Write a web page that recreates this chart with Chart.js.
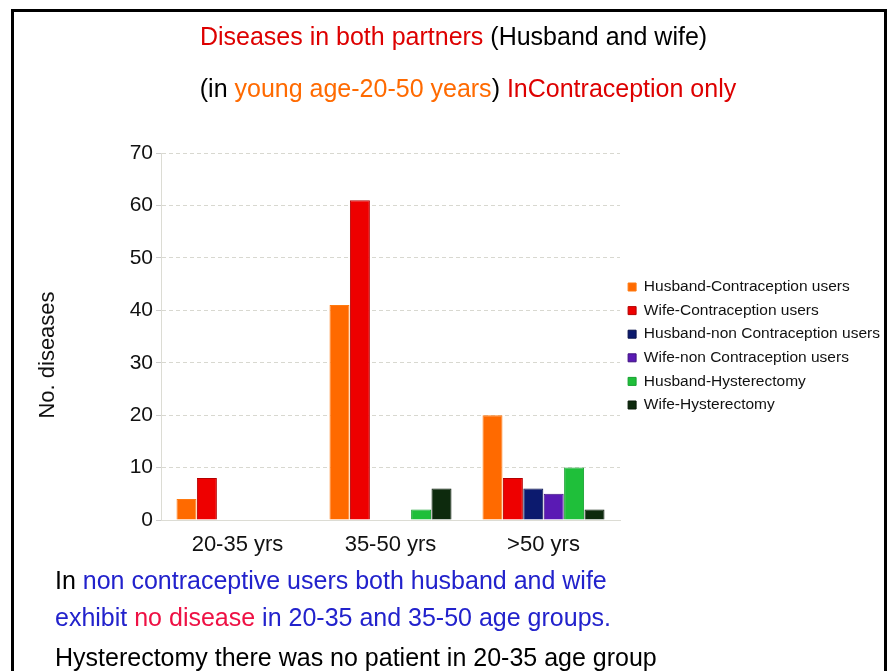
<!DOCTYPE html>
<html>
<head>
<meta charset="utf-8">
<script src="https://cdn.jsdelivr.net/npm/chart.js@4/dist/chart.umd.min.js"></script>
<style>
    html, body { margin: 0; padding: 0; background: #fff; }
    body { width: 887px; height: 671px; position: relative; overflow: hidden; font-family: Arial, "Liberation Sans", sans-serif; }
    #frame { position: absolute; left: 11px; top: 9px; width: 876px; height: 700px; border: 3px solid #000; box-sizing: border-box; }
    #chart-box { position: absolute; left: 0; top: 0; width: 887px; height: 671px; }
    .line { position: absolute; white-space: nowrap; font-size: 25px; line-height: 28px; }
    .title { left: 0; text-align: center; }
    .note { left: 55px; }
    .red { color: #dd0000; }
    .orange { color: #ff6a00; }
    .blue { color: #2222cc; }
    .pink { color: #ee1144; }
</style>
</head>
<body>
<div id="frame"></div>
<div id="chart-box"><canvas id="diseaseChart" width="887" height="671"></canvas></div>
<div class="line title" style="top:22px; width:907px"><span class="red">Diseases in both partners</span> (Husband and wife)</div>
<div class="line title" style="top:74px; width:936px">(in <span class="orange">young age-20-50 years</span>) <span class="red">InContraception only</span></div>
<div class="line note" style="top:566px">In <span class="blue">non contraceptive users both husband and wife</span></div>
<div class="line note" style="top:603px"><span class="blue">exhibit </span><span class="pink">no disease</span><span class="blue"> in 20-35 and 35-50 age groups.</span></div>
<div class="line note" style="top:643px">Hysterectomy there was no patient in 20-35 age group</div>
<script>
    // Altersgruppen und Werte
    const ageGroups = ['20-35 yrs', '35-50 yrs', '>50 yrs'];
    const husbandContraception = [4, 41, 20];
    const wifeContraception = [8, 61, 8];
    const husbandNonContraception = [0, 0, 6];
    const wifeNonContraception = [0, 0, 5];
    const husbandHysterectomy = [0, 2, 10];
    const wifeHysterectomy = [0, 6, 2];
    const yTicks = [0, 10, 20, 30, 40, 50, 60, 70];
    const yAxisLabel = 'No. diseases';

    const seriesNames = [
        'Husband-Contraception users', 'Wife-Contraception users',
        'Husband-non Contraception users', 'Wife-non Contraception users',
        'Husband-Hysterectomy', 'Wife-Hysterectomy'
    ];
    const seriesValues = [
        husbandContraception, wifeContraception, husbandNonContraception,
        wifeNonContraception, husbandHysterectomy, wifeHysterectomy
    ];
    const fillColors = ['#ff6a00', '#ee0000', '#0c1a6e', '#5a1ab4', '#1fbf3a', '#0d2a0d'];
    const edgeColors = ['#ff7a10', '#b30000', '#08104a', '#3e1080', '#16a030', '#061806'];
    const textColor = '#111';
    const fontFamily = 'Arial, "Liberation Sans", sans-serif';

    const datasets = seriesValues.map((values, i) => ({
        label: seriesNames[i],
        data: values,
        backgroundColor: fillColors[i],
        borderColor: edgeColors[i],
        borderWidth: 1,
        categoryPercentage: 0.8,
        barPercentage: 0.98
    }));

    // Achsentitel links, etwas unterhalb der Mitte wie im Original
    const yLabelPlugin = {
        id: 'yLabel',
        afterDraw(chart) {
            const c = chart.ctx;
            c.save();
            c.translate(48, 355);
            c.rotate(-Math.PI / 2);
            c.font = '22px ' + fontFamily;
            c.fillStyle = textColor;
            c.textAlign = 'center';
            c.textBaseline = 'middle';
            c.fillText(yAxisLabel, 0, 0);
            c.restore();
        }
    };

    const ctx = document.getElementById('diseaseChart').getContext('2d');
    new Chart(ctx, {
        type: 'bar',
        data: { labels: ageGroups, datasets: datasets },
        options: {
            responsive: false,
            animation: false,
            layout: { padding: { top: 153, bottom: 111, left: 0, right: 0 } },
            plugins: {
                title: { display: false },
                tooltip: { enabled: false },
                legend: {
                    position: 'right',
                    fullSize: false,
                    maxWidth: 267,
                    title: { display: true, text: '', font: { size: 10, lineHeight: 1 }, padding: { top: 0, bottom: 9 } },
                    labels: {
                        color: textColor,
                        font: { family: fontFamily, size: 15.5 },
                        boxWidth: 8,
                        boxHeight: 8,
                        padding: 8.1
                    }
                }
            },
            scales: {
                x: {
                    grid: { display: false, drawTicks: false },
                    border: { color: '#dcdcd4', dash: [4, 3] },
                    ticks: { color: textColor, padding: 12, font: { family: fontFamily, size: 22 } },
                    afterFit: (scale) => { scale.height = 40; }
                },
                y: {
                    min: 0,
                    max: 70,
                    afterBuildTicks: (scale) => { scale.ticks = yTicks.map(v => ({ value: v })); },
                    grid: { color: '#d8d8d0', tickLength: 5, tickColor: '#ccc' },
                    border: { color: '#dcdcd4', dash: [4, 3] },
                    ticks: { color: textColor, padding: 3, font: { family: fontFamily, size: 21 } },
                    afterFit: (scale) => { scale.width = 161; }
                }
            }
        },
        plugins: [yLabelPlugin]
    });
</script>
</body>
</html>
